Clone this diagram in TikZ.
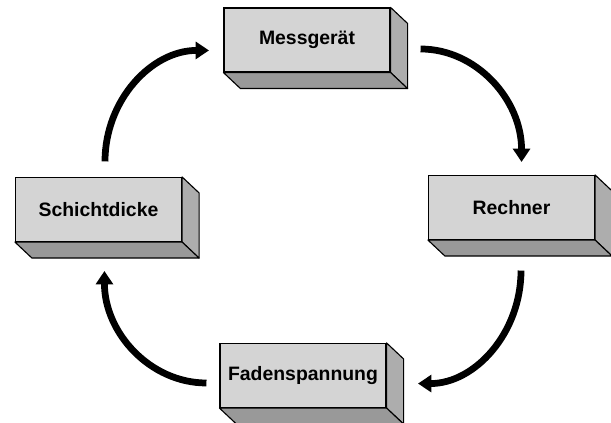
\documentclass[tikz,border=0pt]{standalone}
\usepackage{fontspec}
\setmainfont{Liberation Sans}
\usetikzlibrary{arrows.meta}

\begin{document}
\begin{tikzpicture}[
        block/.style={draw, line width=0.8pt, fill=black!17, minimum width=4.15cm, minimum height=1.6cm,
            inner sep=0pt, font=\fontsize{13.8}{16}\selectfont\bfseries},
        kreis/.style={line width=4.8pt, -{Triangle[length=9.5pt,width=12pt]}}
    ]
    \useasboundingbox (0,0) rectangle (15.275,10.575);

    \node[block] (mess)    at (7.675,9.575)   {Messgerät};
    \node[block] (schicht) at (2.4625,5.3375) {Schichtdicke};
    \node[block] (rechner) at (12.7875,5.3875) {Rechner};
    \node[block] (faden)   at (7.575,1.1875)  {Fadenspannung};

    % Seiten der Bloecke
    \foreach \n in {mess,schicht,rechner,faden}{
        \filldraw[line width=0.8pt, line join=round, fill=black!32] (\n.north east) -- ++(0.425,-0.4)
            -- ([shift={(0.425,-0.4)}]\n.south east) -- (\n.south east) -- cycle;
        \filldraw[line width=0.8pt, line join=round, fill=black!40] (\n.south west) -- ++(0.425,-0.4)
            -- ([shift={(0.425,-0.4)}]\n.south east) -- (\n.south east) -- cycle;
    }

    \draw[kreis] ([shift={(0.1625,0.3875)}]schicht.north)
        arc[start angle=180, end angle=90, x radius=2.6cm, y radius=2.775cm];
    \draw[kreis] ([shift={(0.75,-0.225)}]mess.east)
        arc[start angle=90, end angle=0, x radius=2.525cm, y radius=2.825cm];
    \draw[kreis] ([shift={(0.2375,-0.7625)}]rechner.south)
        arc[start angle=0, end angle=-90, x radius=2.575cm, y radius=2.825cm];
    \draw[kreis] ([shift={(-0.325,-0.1875)}]faden.west)
        arc[start angle=-90, end angle=-180, x radius=2.55cm, y radius=2.8cm];
\end{tikzpicture}
\end{document}
